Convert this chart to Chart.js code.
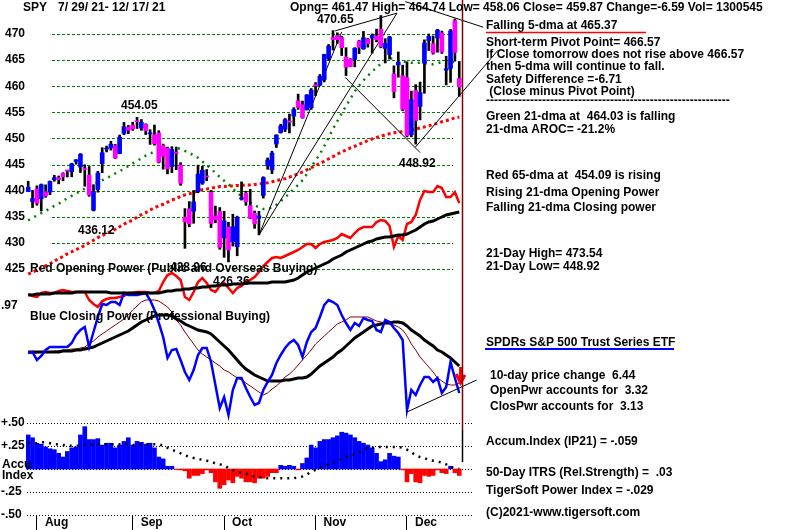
<!DOCTYPE html>
<html>
<head>
<meta charset="utf-8">
<title>SPY 7/29/21 - 12/17/21</title>
<script src="https://cdn.jsdelivr.net/npm/chart.js@4.4.1/dist/chart.umd.min.js"></script>
<style>
  html, body { margin: 0; padding: 0; background: #fff; }
  #box { width: 800px; height: 530px; }
</style>
</head>
<body>
<div id="box"><canvas id="spyChart"></canvas></div>
<script>
// trading days shown, 7/29/21 - 12/17/21
const days = ['7/29','7/30',
  '8/2','8/3','8/4','8/5','8/6','8/9','8/10','8/11','8/12','8/13','8/16','8/17','8/18','8/19','8/20','8/23','8/24','8/25','8/26','8/27','8/30','8/31',
  '9/1','9/2','9/3','9/7','9/8','9/9','9/10','9/13','9/14','9/15','9/16','9/17','9/20','9/21','9/22','9/23','9/24','9/27','9/28','9/29','9/30',
  '10/1','10/4','10/5','10/6','10/7','10/8','10/11','10/12','10/13','10/14','10/15','10/18','10/19','10/20','10/21','10/22','10/25','10/26','10/27','10/28','10/29',
  '11/1','11/2','11/3','11/4','11/5','11/8','11/9','11/10','11/11','11/12','11/15','11/16','11/17','11/18','11/19','11/22','11/23','11/24','11/26','11/29','11/30',
  '12/1','12/2','12/3','12/6','12/7','12/8','12/9','12/10','12/13','12/14','12/15','12/16','12/17'];
const monthNames = ['Aug', 'Sep', 'Oct', 'Nov', 'Dec'];

// SPY daily bars
const opens = [439.82,437.91,440.34,438.44,439.78,439.74,442.10,442.46,443.30,443.82, 443.62,445.59,444.53,444.24,442.96,436.27,440.23,445.16,447.97,448.17,
  448.61,447.12,450.97,452.13,452.56,453.32,451.98,452.71,450.89,450.70, 451.04,448.64,448.12,444.62,447.32,444.92,434.88,436.53,436.05,439.85,
  441.44,442.81,439.69,435.19,436.02,430.98,433.00,430.24,429.27,438.39, 439.48,437.16,435.67,434.71,439.08,444.75,443.97,448.92,451.13,451.77,
  453.13,454.28,457.20,456.45,455.46,455.87,460.30,460.22,461.30,465.36, 469.28,469.70,469.32,465.58,465.21,465.12,468.64,467.15,469.00,469.24,
  469.61,470.89,467.22,466.06,462.34,464.07,462.00,461.64,450.73,459.17, 456.13,464.41,468.70,468.15,469.23,470.19,463.09,463.42,472.57,461.47];
const highs = [441.80,440.06,440.93,441.28,441.12,441.85,442.94,442.80,443.44,443.88, 445.26,445.94,447.11,444.96,444.63,441.14,443.71,448.23,448.54,449.46,
  448.86,450.65,453.07,452.49,453.11,454.05,453.63,452.81,451.67,452.57, 451.49,448.92,448.34,448.41,448.36,445.37,436.56,437.91,440.03,444.89,
  444.67,444.05,440.04,437.04,436.77,436.03,433.96,435.49,435.12,441.68, 439.89,440.26,436.10,436.05,442.66,446.26,447.55,450.71,452.73,453.83,
  454.67,455.90,458.49,457.16,458.40,459.56,460.70,462.23,466.12,467.99, 470.65,470.23,469.57,467.38,465.29,467.38,468.81,470.49,469.19,470.01,
  470.94,473.54,469.10,469.57,463.90,466.56,464.03,464.67,459.07,460.30, 460.79,468.88,470.00,469.63,470.90,470.56,465.74,470.86,472.87,464.74];
const lows = [439.81,436.77,437.21,436.10,438.73,439.23,441.80,441.31,441.88,442.62, 442.66,445.07,443.48,440.85,438.92,436.12,439.71,443.44,447.42,447.77,
  446.16,447.06,450.71,450.92,451.55,451.91,451.55,450.74,448.86,448.72, 445.31,444.11,443.22,443.44,444.02,441.02,428.96,433.07,433.75,439.60,
  441.21,441.90,432.94,433.85,428.78,427.23,426.36,429.39,427.54,438.20, 437.19,434.62,432.78,431.54,438.58,444.09,443.27,448.27,451.01,451.31,
  451.05,452.39,455.56,453.86,455.45,455.56,458.20,460.08,460.83,464.99, 466.92,468.20,465.88,462.04,463.75,463.71,466.23,467.07,467.48,466.34,
  468.50,467.35,464.45,465.19,457.77,461.73,455.30,450.29,450.31,448.92, 453.56,458.65,466.83,466.14,466.51,466.27,460.25,460.74,464.80,458.06];
const closes = [440.65,438.51,437.59,441.15,438.98,441.76,442.49,442.13,442.68,443.78, 445.11,445.92,446.97,444.04,439.18,439.86,443.36,447.26,447.97,448.91,
  446.26,450.25,452.23,451.56,451.80,453.19,453.08,451.46,450.91,448.98, 445.44,446.58,444.17,447.88,447.17,441.40,434.04,433.63,437.86,443.18,
  443.91,442.64,433.72,434.45,429.14,434.24,428.64,433.10,434.90,438.66, 437.86,434.69,433.62,435.18,442.50,445.87,447.19,450.64,452.41,453.59,
  453.12,455.55,455.96,453.94,458.32,459.25,460.04,461.90,466.09,467.69, 468.93,468.93,467.38,463.62,463.77,467.27,467.43,469.28,468.14,469.73,
  468.89,467.57,468.19,469.44,458.97,464.60,455.56,450.50,457.40,453.42, 458.79,468.28,469.52,466.35,470.74,466.57,463.36,470.60,466.46,459.87];

// moving averages
const ma21 = [434.3,434.8,435.2,435.7,436.1,436.6,437.1,437.5,438.0,438.6, 439.0,439.5,439.9,440.4,440.8,441.2,441.6,442.0,442.4,442.8,
  443.3,443.7,444.2,444.7,445.2,445.7,446.2,446.7,447.1,447.5, 447.8,448.0,448.1,448.2,448.2,448.0,447.6,447.2,446.8,446.3,
  445.6,444.9,444.2,443.4,442.6,441.9,441.2,440.4,439.6,438.9, 438.3,437.7,437.2,436.8,436.5,436.5,436.8,437.3,438.0,438.7,
  439.5,440.3,441.1,442.0,443.2,444.5,445.8,447.0,448.5,450.2, 451.8,453.3,454.8,456.2,457.6,459.0,460.1,461.1,462.0,462.8,
  463.6,464.3,464.9,465.3,465.3,465.0,464.8,464.6,464.5,464.5, 464.5,464.4,464.2,464.2,464.4,464.6,464.8,464.8,464.5,464.0];
const ma65 = [424.0,424.4,424.8,425.2,425.6,426.0,426.5,427.0,427.4,427.9, 428.3,428.7,429.1,429.5,430.0,430.5,431.0,431.4,431.8,432.2,
  432.6,433.1,433.6,434.0,434.4,434.9,435.4,435.8,436.3,436.7, 437.1,437.4,437.8,438.2,438.5,438.9,439.2,439.4,439.7,439.9,
  440.2,440.3,440.5,440.6,440.8,440.8,440.9,440.9,441.0,441.0, 441.1,441.1,441.2,441.3,441.4,441.5,441.7,441.9,442.1,442.3,
  442.6,442.9,443.2,443.6,444.0,444.4,444.8,445.2,445.6,446.1, 446.5,447.0,447.4,447.8,448.2,448.5,448.9,449.2,449.6,449.9,
  450.2,450.4,450.7,450.9,451.1,451.2,451.3,451.5,451.6,451.8, 452.0,452.2,452.4,452.7,452.9,453.2,453.4,453.7,453.9,454.1];

// opening power (red) and its average (black), relative units
const openPower = [6,4,3,7,8,7,7,9,10,9, 8,8,8,8,0,-4,-7,-1,1,2, 2,3,4,7,7,8,8,8,7,7,
  9,18,25,27,24,20,3,0,8,18, 22,17,10,8,14,17,12,7,12,14, 18,20,23,28,34,38,42,43,42,44,
  46,48,50,53,56,56,52,56,58,59, 60,62,66,64,62,67,71,73,73,73, 78,80,79,74,53,64,60,76,78,85,
  100,109,108,108,114,112,103,103,108,97];
const openPowerMa = [5,5,6,6,6,6,7,7,7,7, 7,8,8,8,8,8,8,8,8,7, 7,7,7,7,7,7,7,7,7,7,
  7,8,9,9,10,10,11,11,12,12, 13,13,14,14,15,15,15,16,16,16, 17,17,17,17,17,17,18,18,18,18,
  19,20,22,25,28,30,32,34,36,38, 41,43,45,48,50,52,54,56,58,59, 61,62,63,63,64,65,65,66,68,70,
  73,76,78,79,81,83,85,86,87,88];

// closing power (blue), its long average (black) and short average (dark red)
const closePower = [67,68,60,64,70,73,73,73,73,73, 77,85,90,93,73,88,103,116,115,118, 118,115,127,125,125,125,126,127,120,110,
  97,83,62,70,71,60,48,40,50,65, 72,72,58,35,12,23,5,30,42,42, 32,23,15,17,30,38,45,57,65,72,
  77,80,75,63,78,88,92,103,115,120, 118,115,105,97,90,97,94,102,100,99, 90,88,100,98,92,87,80,10,30,25,
  35,43,43,38,42,27,33,58,42,27];
const closePowerMa = [68,68,68,68,68,68,68,68,69,69, 69,70,70,71,72,73,75,77,79,81, 83,85,87,89,92,95,98,100,102,104,
  105,105,105,104,101,99,96,94,92,90, 89,88,86,82,78,74,70,65,60,55, 51,48,45,43,41,39,39,39,39,40,
  40,41,42,42,43,46,50,54,57,60, 63,67,70,74,78,82,85,88,91,94, 95,96,97,97,98,98,97,94,90,87,
  84,80,77,74,70,68,65,62,58,54];
const closePowerMa2 = [67,67,67,68,68,68,69,69,70,70, 71,71,72,73,76,79,83,86,89,92, 95,98,101,105,110,114,118,120,120,120,
  119,116,113,108,100,95,88,82,76,70, 66,63,60,57,54,50,48,45,42,40, 37,34,31,28,25,27,31,34,38,43,
  46,50,55,60,65,70,76,80,84,88, 92,96,98,100,103,103,103,103,103,101, 99,98,97,96,95,93,90,84,76,70,
  63,58,53,48,42,39,36,35,35,37];

// accumulation index (IP21) and its average
const accum = [.37,.34,.28,.27,.24,.22,.21,.17,.13,.19, .23,.24,.37,.46,.32,.32,.33,.26,.28,.28,
  .23,.26,.30,.34,.26,.30,.29,.27,.28,.23, .13,.11,.03,.03,-.005,-.01,-.02,-.10,-.07,-.07,
  -.05,-.01,-.04,-.14,-.21,-.17,-.12,-.15,-.08,-.10, -.14,-.14,-.15,-.10,-.10,-.08,-.04,-.04,.04,.03,
  .04,.03,-.01,.06,.12,.26,.23,.30,.32,.32, .34,.36,.40,.39,.37,.34,.30,.28,.26,.23,
  .17,.08,.10,.17,.14,.13,-.01,-.14,-.05,-.14, -.15,-.07,-.08,-.07,-.01,-.04,-.05,.03,-.04,-.07];
const accumMa = [.28,.28,.28,.29,.29,.28,.27,.27,.26,.26, .25,.25,.26,.27,.27,.27,.27,.27,.27,.27,
  .27,.27,.27,.27,.26,.26,.26,.27,.27,.27, .27,.25,.23,.21,.19,.17,.15,.13,.12,.11,
  .10,.09,.08,.06,.05,.04,.01,-.01,-.03,-.04, -.05,-.07,-.08,-.09,-.09,-.10,-.10,-.10,-.10,-.10,
  -.10,-.10,-.09,-.08,-.06,-.03,-.01,.01,.03,.05, .07,.09,.11,.13,.15,.16,.18,.21,.23,.23,
  .24,.24,.24,.24,.24,.24,.23,.21,.18,.15, .13,.12,.10,.09,.08,.07,.05,.02,.01,.00];

// drawn trend lines: [bar index, price] pairs
const trendLines = [
  [[53, 431.5], [72, 470.4]],
  [[53, 431.5], [84.7, 474.0]],
  [[70.5, 470.6], [84.7, 474.0]],
  [[86.6, 476.2], [104.5, 471.3]],
  [[72.8, 461.7], [90.0, 447.3]],
  [[88.9, 448.3], [107.9, 466.9]]
];
const closePowerTrend = [[87, 8], [103, 40]];
const arrowShaft = [[99.3, 53], [99.3, 38]];
const arrowHead = [[98.3, 46], [99.3, 37], [100.3, 45]];

const priceTicks = [470, 465, 460, 455, 450, 445, 440, 435, 430, 425];
const accumTicks = [0.5, 0.25, 0, -0.25, -0.5];
const accumTickLabels = ['+.50', '+.25', '', '-.25', '-.50'];

const monthStarts = days.map((d, i) => i)
  .filter(i => i > 0 && days[i].split('/')[0] !== days[i - 1].split('/')[0]);

// panel layout: each hidden axis is stretched so its values land in its band
const plotTop = 0, plotBottom = 516;
function fitRange(v1, y1, v2, y2) {
  const k = (v1 - v2) / (y2 - y1);
  return { min: v2 - (plotBottom - y2) * k, max: v1 + (y1 - plotTop) * k };
}
const priceRange = fitRange(470, 34, 425, 269);
const opRange = fitRange(100, 200, 0, 300);
const cpRange = fitRange(100, 320, 0, 420);
const accRange = fitRange(0.5, 423, 0, 469);

const FONT = 'bold 12px "Liberation Sans", Arial, sans-serif';
const xy = arr => arr.map((v, i) => ({ x: i, y: v }));
const pairs = arr => arr.map(([x, y]) => ({ x, y }));

function lineSet(data, axis, color, width, extra) {
  return Object.assign({
    type: 'line', data, yAxisID: axis, borderColor: color, borderWidth: width,
    pointRadius: 0, fill: false, tension: 0
  }, extra || {});
}

const datasets = [
  {
    type: 'bar', yAxisID: 'price', order: 1, grouped: false, barThickness: 4, minBarLength: 1,
    data: opens.map((o, i) => ({ x: i, y: [o, closes[i]] })),
    backgroundColor: opens.map((o, i) => closes[i] >= o ? '#0000ff' : '#ff00ff'),
    borderWidth: 0
  },
  {
    type: 'bar', yAxisID: 'price', order: 2, grouped: false, barThickness: 2,
    data: lows.map((l, i) => ({ x: i, y: [l, highs[i]] })),
    backgroundColor: '#000', borderWidth: 0
  },
  ...trendLines.map(t => lineSet(pairs(t), 'price', '#000', 1, { order: 3, clip: false })),
  lineSet(xy(ma21), 'price', '#008000', 2.5, { order: 4, borderDash: [2, 5] }),
  lineSet(xy(ma65), 'price', '#ff0000', 3, { order: 4, borderDash: [3, 3] }),
  lineSet(xy(openPowerMa), 'op', '#000', 3, { order: 5 }),
  lineSet(xy(openPower), 'op', '#ff0000', 2.5, { order: 6 }),
  lineSet(xy(closePower), 'cp', '#0000ff', 2.5, { order: 5 }),
  lineSet(xy(closePowerMa), 'cp', '#000', 3, { order: 6 }),
  lineSet(xy(closePowerMa2), 'cp', '#800000', 1, { order: 7 }),
  lineSet(pairs(closePowerTrend), 'cp', '#000', 1, { order: 4, clip: false }),
  lineSet(pairs(arrowShaft), 'cp', '#ff0000', 3, { order: 0 }),
  lineSet(pairs(arrowHead), 'cp', '#ff0000', 3, { order: 0 }),
  lineSet(xy(accumMa), 'acc', '#000', 2.5, { order: 4, borderDash: [2, 5] }),
  {
    type: 'bar', yAxisID: 'acc', order: 8, grouped: false, barThickness: 4,
    data: xy(accum),
    backgroundColor: accum.map(v => v >= 0 ? '#0000ff' : '#ff0000'),
    borderWidth: 0
  }
];

const notes = [
  ['Falling 5-dma at 465.37', 486, 28.5],
  ['Short-term Pivot Point= 466.57', 486, 45.5],
  ['If Close tomorrow does not rise above 466.57', 486, 57.5],
  ['then 5-dma will continue to fall.', 486, 69.5],
  ['Safety Difference =-6.71', 486, 82.5],
  [' (Close minus Pivot Point)', 486, 94.5],
  ['-'.repeat(61), 486, 104],
  ['Green 21-dma at  464.03 is falling', 486, 119.5],
  ['21-dma AROC= -21.2%', 486, 132.5],
  ['Red 65-dma at  454.09 is rising', 486, 178.5],
  ['Rising 21-dma Opening Power', 486, 195.5],
  ['Falling 21-dma Closing power', 486, 210.5],
  ['21-Day High= 473.54', 486, 256.5],
  ['21-Day Low= 448.92', 486, 269.5],
  ['SPDRs S&P 500 Trust Series ETF', 486, 345.5],
  ['10-day price change  6.44', 490, 378.5],
  ['OpenPwr accounts for  3.32', 490, 393.5],
  ['ClosPwr accounts for  3.13', 490, 409.5],
  ['Accum.Index (IP21) = -.059', 486, 444.5],
  ['50-Day ITRS (Rel.Strength) =  .03', 486, 475.5],
  ['TigerSoft Power Index = -.029', 486, 493.5],
  ['(C)2021-www.tigersoft.com', 486, 515.5],
  ['SPY', 23, 10.5],
  ['7/ 29/ 21- 12/ 17/ 21', 58, 10.5],
  ['Red Opening Power (Public and Overseas Buying)', 30, 271.5],
  ['Blue Closing Power (Professional Buying)', 30, 319.5],
  ['.97', 1, 308.5],
  ['Accu', 2, 467.5],
  ['Index', 2, 478.5]
];
// high / low call-outs: [bar, which, x, baseline]
const callouts = [[25, 'h', 121, 108.5], [70, 'h', 317, 22.5], [15, 'l', 78, 233.5],
  [36, 'l', 170, 270.5], [46, 'l', 213, 284.5], [89, 'l', 399, 166.5]];

const last = opens.length - 1;

const tigerPlugin = {
  id: 'tiger',
  beforeDatasetsDraw(chart) {
    const { ctx, scales } = chart;
    ctx.save();
    ctx.lineWidth = 1;
    ctx.strokeStyle = '#008000';
    ctx.setLineDash([3, 2]);
    priceTicks.forEach(v => {
      const y = Math.round(scales.price.getPixelForValue(v)) + 0.5;
      ctx.beginPath(); ctx.moveTo(52, y); ctx.lineTo(453, y); ctx.stroke();
    });
    ctx.strokeStyle = '#000';
    ctx.setLineDash([1, 2]);
    accumTicks.forEach(v => {
      const y = Math.round(scales.acc.getPixelForValue(v)) + 0.5;
      ctx.beginPath(); ctx.moveTo(27, y); ctx.lineTo(473, y); ctx.stroke();
    });
    ctx.restore();
  },
  afterDatasetsDraw(chart) {
    const { ctx, scales } = chart;
    ctx.save();
    // end-of-data marker
    const xe = Math.round(scales.x.getPixelForValue(last + 0.6)) + 0.5;
    ctx.lineWidth = 1.5;
    ctx.strokeStyle = '#800000';
    ctx.beginPath(); ctx.moveTo(xe, 0); ctx.lineTo(xe, 430); ctx.stroke();
    ctx.strokeStyle = '#000';
    ctx.beginPath(); ctx.moveTo(xe, 430); ctx.lineTo(xe, 462); ctx.stroke();

    ctx.font = FONT;
    ctx.fillStyle = '#000';
    ctx.textAlign = 'left';
    ctx.textBaseline = 'alphabetic';
    notes.forEach(([s, x, y]) => ctx.fillText(s, x, y));
    ctx.fillText('Opng= ' + opens[last].toFixed(2) + ' High= ' + highs[last].toFixed(2) +
      ' Low= ' + lows[last].toFixed(2) + ' Close= ' + closes[last].toFixed(2) +
      ' Change=' + (closes[last] - closes[last - 1]).toFixed(2) + ' Vol= 1300545', 290, 10.5);
    callouts.forEach(([i, w, x, y]) => ctx.fillText((w === 'h' ? highs[i] : lows[i]).toFixed(2), x, y));

    // axis labels
    ctx.textBaseline = 'middle';
    ctx.textAlign = 'right';
    priceTicks.forEach(v => ctx.fillText(String(v), 25, scales.price.getPixelForValue(v)));
    ctx.textAlign = 'left';
    accumTicks.forEach((v, k) => ctx.fillText(accumTickLabels[k], 1, scales.acc.getPixelForValue(v)));

    // underlines
    ctx.lineWidth = 1.5;
    ctx.strokeStyle = '#ff0000';
    ctx.beginPath(); ctx.moveTo(486, 32.5); ctx.lineTo(646, 32.5); ctx.stroke();
    ctx.lineWidth = 2;
    ctx.strokeStyle = '#0000ff';
    ctx.beginPath(); ctx.moveTo(485, 349); ctx.lineTo(674, 349); ctx.stroke();
    ctx.restore();
  }
};

const hiddenY = r => ({ axis: 'y', position: 'left', display: false, min: r.min, max: r.max });

new Chart(document.getElementById('spyChart'), {
  type: 'bar',
  data: { datasets },
  options: {
    responsive: true,
    maintainAspectRatio: false,
    animation: false,
    devicePixelRatio: 1,
    layout: { padding: { left: 26, right: 334, top: 0, bottom: 0 } },
    plugins: { legend: { display: false }, tooltip: { enabled: false } },
    scales: {
      x: {
        type: 'linear', min: -0.5, max: last + 1.55, offset: false,
        afterBuildTicks: s => { s.ticks = monthStarts.map(v => ({ value: v })); },
        afterFit: s => { s.height = 14; },
        border: { display: false },
        grid: { offset: false, drawOnChartArea: false, drawTicks: true, tickLength: 14, color: '#000', lineWidth: 1 },
        ticks: {
          autoSkip: false, maxRotation: 0, align: 'start', labelOffset: 8, padding: -15,
          color: '#000', font: { family: 'Liberation Sans', size: 12, weight: 'bold' },
          callback: (v, i) => monthNames[i]
        }
      },
      price: hiddenY(priceRange),
      op: hiddenY(opRange),
      cp: hiddenY(cpRange),
      acc: hiddenY(accRange)
    }
  },
  plugins: [tigerPlugin]
});
</script>
</body>
</html>
